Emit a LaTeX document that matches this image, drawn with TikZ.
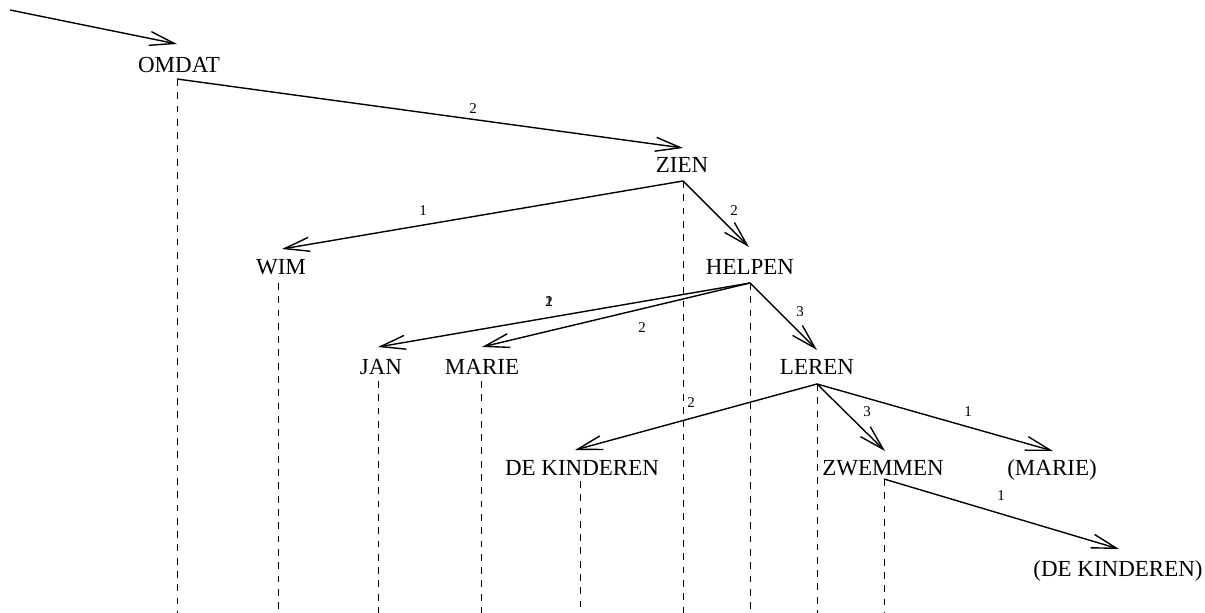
\documentclass[tikz,border=0pt]{standalone}
\usepackage{fontspec}
\setmainfont{Liberation Serif}
\usetikzlibrary{arrows.meta}
\begin{document}
\begin{tikzpicture}[x=0.5pt,y=-0.5pt,
 word/.style={anchor=base,inner sep=0pt,font=\fontsize{11.5}{14}\selectfont},
 lbl/.style={inner sep=0pt,font=\fontsize{7.5}{9}\selectfont},
 dep/.style={line width=0.7pt,-{Straight Barb[length=12.5pt,width=7pt,line width=0.7pt]}},
 proj/.style={line width=0.45pt,dash pattern=on 3.4pt off 3.25pt}]
\useasboundingbox (0,0) rectangle (1205,613);
\coordinate (bot) at (0,613);
\coordinate (start) at (10,10);
% words
\node[word] (omdat) at (179,73) {OMDAT};
\coordinate (omdat-t) at (177,44);
\coordinate (omdat-b) at (177,79);
\node[word] (zien) at (682,173) {ZIEN};
\coordinate (zien-t) at (683,148);
\coordinate (zien-b) at (683,181);
\node[word] (wim) at (281,275) {WIM};
\coordinate (wim-t) at (282,249);
\coordinate (wim-b) at (278,283);
\node[word] (helpen) at (750,275) {HELPEN};
\coordinate (helpen-t) at (749,247);
\coordinate (helpen-b) at (750,283);
\node[word] (jan) at (381,375) {JAN};
\coordinate (jan-t) at (378,347);
\coordinate (jan-b) at (378,381);
\node[word] (marie) at (482,375) {MARIE};
\coordinate (marie-t) at (482,347);
\coordinate (marie-b) at (481,381);
\node[word] (leren) at (817,375) {LEREN};
\coordinate (leren-t) at (817,350);
\coordinate (leren-b) at (817,384);
\node[word] (kind) at (582,476) {DE KINDEREN};
\coordinate (kind-t) at (575,450);
\coordinate (kind-b) at (580,481);
\node[word] (zwem) at (883,476) {ZWEMMEN};
\coordinate (zwem-t) at (885,451);
\coordinate (zwem-b) at (884,479);
\node[word] (marie2) at (1052,476) {(MARIE)};
\coordinate (marie2-t) at (1053,451);
\node[word] (kind2) at (1118,577) {(DE KINDEREN)};
\coordinate (kind2-t) at (1119,549);
% dependency arrows
\draw[dep] (start) -- (omdat-t);
\draw[dep] (omdat-b) -- (zien-t);
\draw[dep] (zien-b) -- (wim-t);
\draw[dep] (zien-b) -- (helpen-t);
\draw[dep] (helpen-b) -- (jan-t);
\draw[dep] (helpen-b) -- (marie-t);
\draw[dep] (helpen-b) -- (leren-t);
\draw[dep] (leren-b) -- (kind-t);
\draw[dep] (leren-b) -- (zwem-t);
\draw[dep] (leren-b) -- (marie2-t);
\draw[dep] (zwem-b) -- (kind2-t);
% labels
\node[lbl] (l1) at (473,109) {2};
\node[lbl] (l2) at (423,211) {1};
\node[lbl] (l3) at (734,211) {2};
\node[lbl] (l4a) at (549,302) {1};
\node[lbl] (l4b) at (549,302) {2};
\node[lbl] (l5) at (642,328) {2};
\node[lbl] (l6) at (800,312) {3};
\node[lbl] (l7) at (691,403) {2};
\node[lbl] (l8) at (867,412) {3};
\node[lbl] (l9) at (968,412) {1};
\node[lbl] (l10) at (1001,496) {1};
% projection lines
\foreach \n in {omdat,zien,wim,helpen,jan,marie,leren,kind,zwem}
  \draw[proj] (\n-b) -- (\n-b |- bot);
\end{tikzpicture}
\end{document}
